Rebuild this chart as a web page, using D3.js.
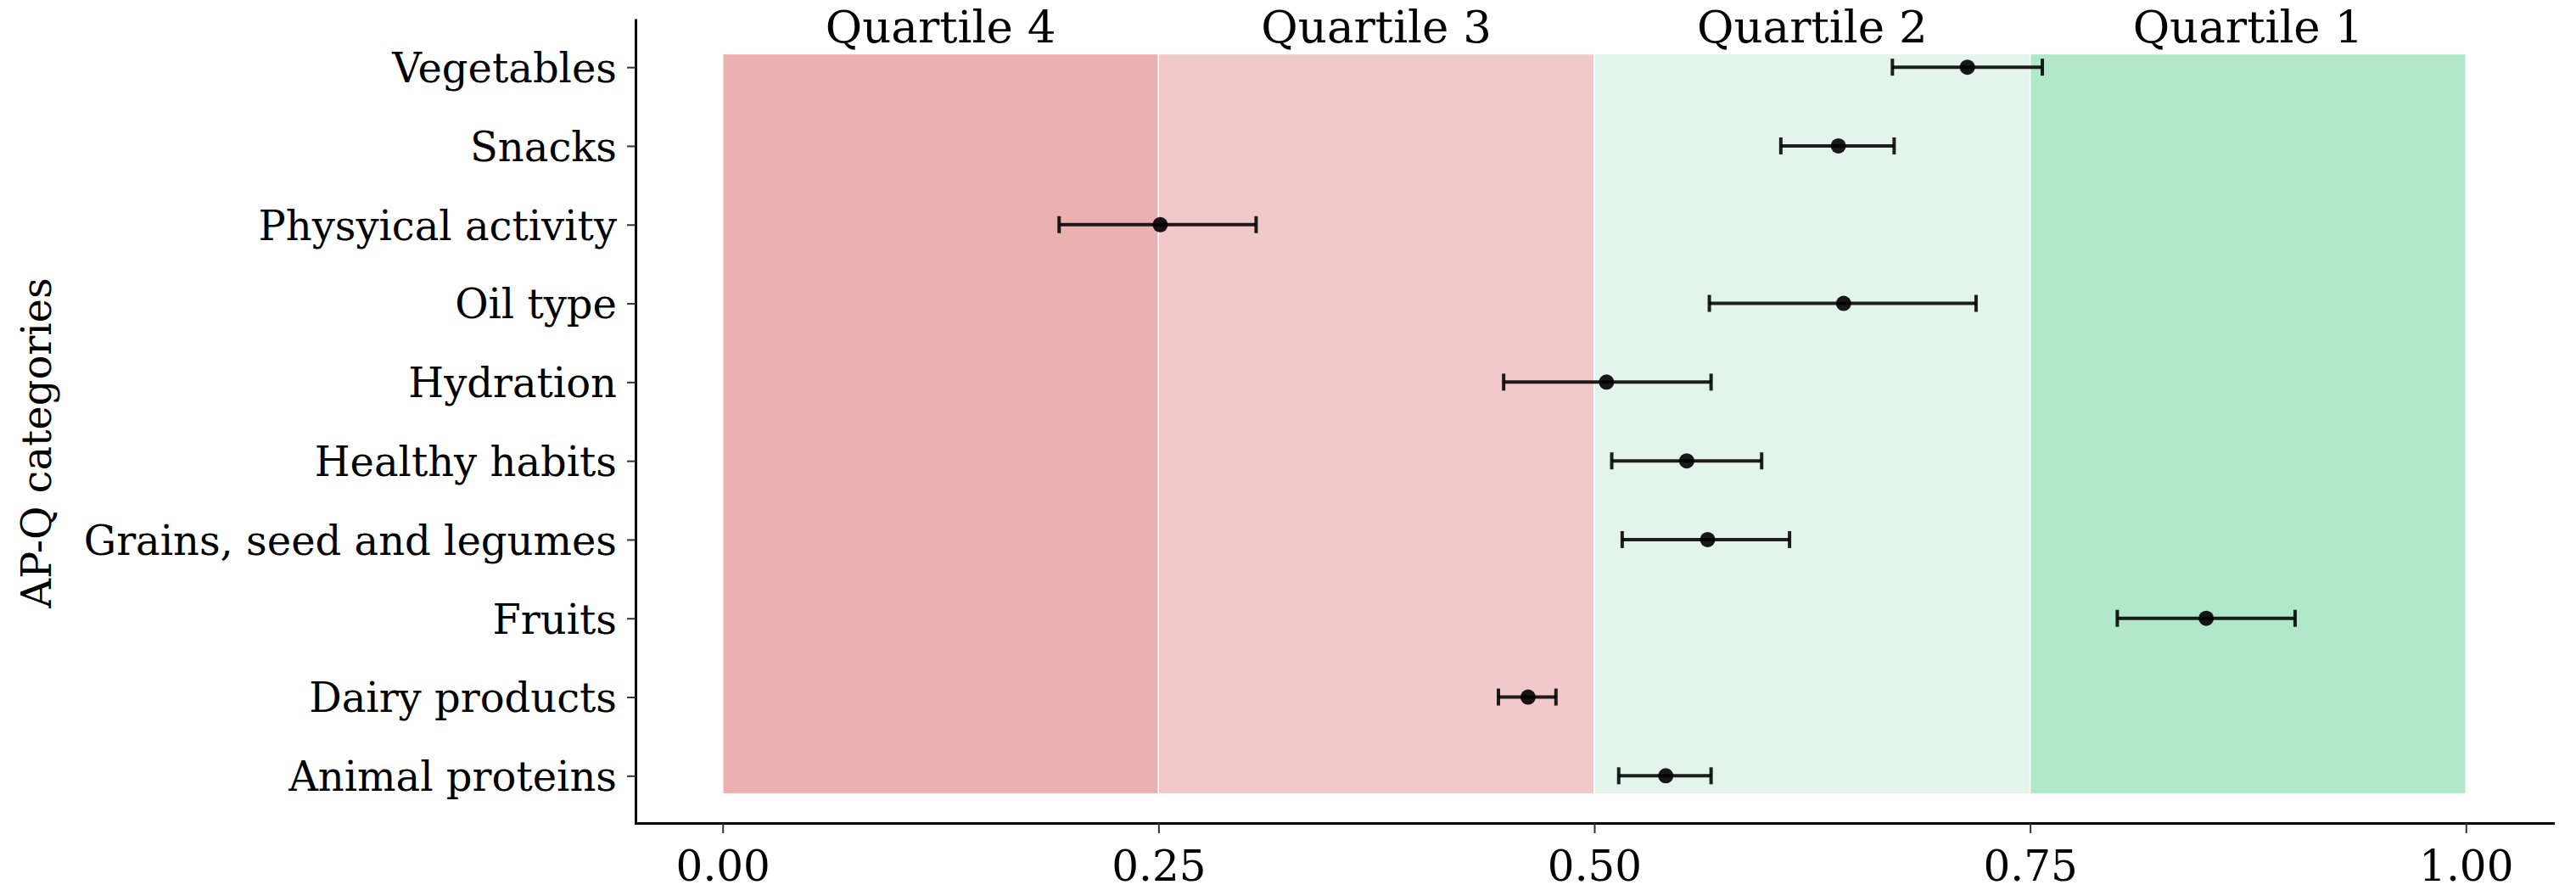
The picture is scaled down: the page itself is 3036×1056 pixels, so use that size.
<!DOCTYPE html>
<html>
<head>
<meta charset="utf-8">
<script src="https://cdn.jsdelivr.net/npm/d3@7"></script>
<style>
  body { margin: 0; background: #fff; }
  svg text { font-family: "DejaVu Serif", serif; }
</style>
</head>
<body>
<div id="chart"></div>
<script>
// categories, bottom to top
const categories = ["Animal proteins", "Dairy products", "Fruits", "Grains, seed and legumes",
    "Healthy habits", "Hydration", "Oil type", "Physyical activity", "Snacks", "Vegetables"];

// point estimate and interval, same order
const estimate = [0.541, 0.462, 0.851, 0.565, 0.553, 0.507, 0.643, 0.251, 0.640, 0.714];
const lower    = [0.514, 0.445, 0.800, 0.516, 0.510, 0.448, 0.566, 0.193, 0.607, 0.671];
const upper    = [0.567, 0.478, 0.902, 0.612, 0.596, 0.567, 0.719, 0.306, 0.672, 0.757];

// quartile bands
const bandNames  = ["Quartile 4", "Quartile 3", "Quartile 2", "Quartile 1"];
const bandStart  = [0, 0.25, 0.50, 0.75];
const bandEnd    = [0.25, 0.50, 0.75, 1.00];
const bandColors = ["#ebb1b1", "#f2c9ca", "#e3f5eb", "#b2e8ca"];

const xTicks = [0, 0.25, 0.5, 0.75, 1];

const width = 3036, height = 1056;

const svg = d3.select("#chart")
    .append("svg")
    .attr("width", width)
    .attr("height", height);

let x = d3.scaleLinear()
    .domain([-0.05, 1.05])
    .range([749, 3009]);

let y = d3.scaleLinear()
    .domain([0.4, 10.6])
    .range([970, 23.5]);

// quartile backgrounds
svg.append("g")
    .selectAll("rect")
    .data(bandNames)
    .join("rect")
    .attr("x", (d, i) => x(bandStart[i]))
    .attr("width", (d, i) => x(bandEnd[i]) - x(bandStart[i]))
    .attr("y", y(10.17))
    .attr("height", y(0.77) - y(10.17))
    .attr("fill", (d, i) => bandColors[i])
    .attr("stroke", "#fff")
    .attr("stroke-width", 1.5);

// quartile labels
svg.append("g")
    .selectAll("text")
    .data(bandNames)
    .join("text")
    .attr("x", (d, i) => x((bandStart[i] + bandEnd[i]) / 2))
    .attr("y", y(10.31))
    .attr("text-anchor", "middle")
    .style("font-size", "53px")
    .attr("fill", "#000")
    .text(d => d);

// error bars
const bars = svg.append("g")
    .attr("stroke", "#000")
    .attr("stroke-opacity", 0.88)
    .attr("stroke-width", 4)
    .selectAll("g")
    .data(categories)
    .join("g");

bars.append("line")
    .attr("x1", (d, i) => x(lower[i]))
    .attr("x2", (d, i) => x(upper[i]))
    .attr("y1", (d, i) => y(i + 1))
    .attr("y2", (d, i) => y(i + 1));

bars.append("line")
    .attr("x1", (d, i) => x(lower[i]))
    .attr("x2", (d, i) => x(lower[i]))
    .attr("y1", (d, i) => y(i + 1) - 10)
    .attr("y2", (d, i) => y(i + 1) + 10);

bars.append("line")
    .attr("x1", (d, i) => x(upper[i]))
    .attr("x2", (d, i) => x(upper[i]))
    .attr("y1", (d, i) => y(i + 1) - 10)
    .attr("y2", (d, i) => y(i + 1) + 10);

svg.append("g")
    .selectAll("circle")
    .data(categories)
    .join("circle")
    .attr("cx", (d, i) => x(estimate[i]))
    .attr("cy", (d, i) => y(i + 1))
    .attr("r", 9)
    .attr("fill", "#000")
    .attr("fill-opacity", 0.9);

// axes
let xAxis = d3.axisBottom(x)
    .tickValues(xTicks)
    .tickFormat(d3.format(".2f"))
    .tickSize(12)
    .tickSizeOuter(0)
    .tickPadding(8);

let yAxis = d3.axisLeft(y)
    .tickValues(d3.range(1, 11))
    .tickFormat(d => categories[d - 1])
    .tickSize(10)
    .tickSizeOuter(0)
    .tickPadding(12);

const gx = svg.append("g")
    .attr("transform", `translate(0,${y(0.4)})`)
    .call(xAxis);

const gy = svg.append("g")
    .attr("transform", `translate(${x(-0.05)},0)`)
    .call(yAxis);

[gx, gy].forEach(g => {
    g.select(".domain")
        .attr("stroke", "#000")
        .attr("stroke-width", 3)
        .attr("stroke-linecap", "square");
    g.selectAll(".tick line")
        .attr("stroke", "#333")
        .attr("stroke-width", 2);
    g.selectAll(".tick text")
        .attr("fill", "#000")
        .style("font-family", "DejaVu Serif, serif")
        .style("font-size", "48px");
});

gx.selectAll(".tick text").attr("dy", "0.95em").style("font-size", "50px");
gy.selectAll(".tick text").attr("dy", "0.36em");

// y axis title
svg.append("text")
    .attr("transform", "translate(60,522) rotate(-90)")
    .attr("text-anchor", "middle")
    .style("font-size", "48px")
    .attr("fill", "#000")
    .text("AP-Q categories");
</script>
</body>
</html>
